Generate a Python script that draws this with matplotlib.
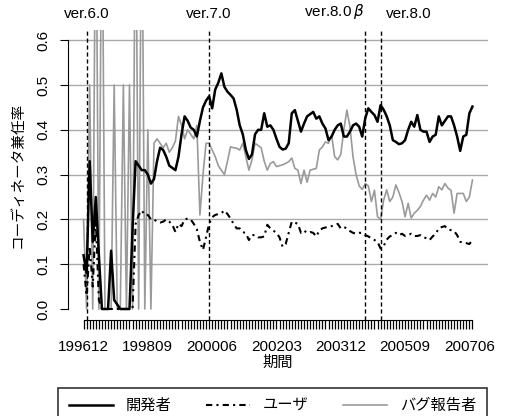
import matplotlib
matplotlib.use("Agg")
import matplotlib.pyplot as plt
import numpy as np

plt.rcParams['font.family'] = ['Liberation Sans', 'Noto Sans CJK JP', 'DejaVu Sans']

# monthly index 0 = 1996/12 ... 127 = 2007/07
dev = [0.12, 0.08, 0.33, 0.15, 0.25, 0.12, 0.00, 0.00, 0.00, 0.13,
       0.02, 0.01, 0.00, 0.00, 0.00, 0.00, 0.18, 0.33, 0.32, 0.31,
       0.31, 0.30, 0.28, 0.29, 0.33, 0.36, 0.355, 0.34, 0.32, 0.315,
       0.31, 0.34, 0.39, 0.43, 0.42, 0.405, 0.40, 0.385, 0.42, 0.45,
       0.465, 0.475, 0.448, 0.49, 0.505, 0.526, 0.496, 0.485, 0.478, 0.47,
       0.445, 0.41, 0.39, 0.355, 0.335, 0.345, 0.39, 0.40, 0.40, 0.437,
       0.407, 0.41, 0.40, 0.38, 0.362, 0.356, 0.358, 0.37, 0.437, 0.444,
       0.42, 0.396, 0.414, 0.43, 0.435, 0.44, 0.425, 0.43, 0.414, 0.403,
       0.377, 0.385, 0.40, 0.41, 0.414, 0.385, 0.385, 0.396, 0.41, 0.414,
       0.407, 0.385, 0.426, 0.448, 0.44, 0.433, 0.418, 0.455, 0.445, 0.43,
       0.41, 0.377, 0.373, 0.368, 0.37, 0.377, 0.40, 0.418, 0.407, 0.433,
       0.40, 0.396, 0.396, 0.373, 0.385, 0.389, 0.43, 0.41, 0.42, 0.43,
       0.43, 0.41, 0.385, 0.353, 0.385, 0.389, 0.437, 0.452]

user = [0.10, 0.03, 0.14, 0.05, 0.20, 0.02, 0.00, 0.00, 0.00, 0.00,
        0.00, 0.00, 0.00, 0.00, 0.00, 0.00, 0.00, 0.19, 0.21, 0.22,
        0.21, 0.21, 0.20, 0.20, 0.195, 0.193, 0.195, 0.20, 0.195, 0.188,
        0.172, 0.19, 0.185, 0.20, 0.202, 0.20, 0.19, 0.178, 0.15, 0.132,
        0.16, 0.19, 0.205, 0.21, 0.212, 0.214, 0.22, 0.212, 0.202, 0.19,
        0.18, 0.18, 0.172, 0.169, 0.154, 0.165, 0.165, 0.16, 0.16, 0.162,
        0.188, 0.18, 0.175, 0.17, 0.16, 0.139, 0.145, 0.17, 0.195, 0.193,
        0.19, 0.17, 0.175, 0.17, 0.172, 0.17, 0.162, 0.175, 0.18, 0.182,
        0.183, 0.185, 0.188, 0.19, 0.18, 0.183, 0.18, 0.174, 0.17, 0.168,
        0.17, 0.17, 0.165, 0.162, 0.158, 0.154, 0.15, 0.135, 0.14, 0.155,
        0.162, 0.165, 0.17, 0.165, 0.168, 0.163, 0.165, 0.168, 0.163, 0.163,
        0.165, 0.16, 0.158, 0.154, 0.162, 0.168, 0.18, 0.183, 0.185, 0.178,
        0.176, 0.174, 0.165, 0.15, 0.148, 0.147, 0.145, 0.154]

bug = [0.20, 0.00, 0.50, 0.00, 1.00, 0.00, 1.00, 0.00, 0.00, 0.00,
       0.50, 0.00, 0.00, 0.50, 0.00, 0.50, 0.00, 1.00, 0.00, 1.00,
       0.00, 0.40, 0.00, 0.37, 0.38, 0.37, 0.36, 0.37, 0.35, 0.36,
       0.375, 0.43, 0.41, 0.38, 0.40, 0.39, 0.38, 0.41, 0.21, 0.30,
       0.37, 0.37, 0.355, 0.34, 0.32, 0.31, 0.30, 0.33, 0.362, 0.36,
       0.359, 0.355, 0.37, 0.34, 0.31, 0.333, 0.37, 0.365, 0.36, 0.33,
       0.31, 0.325, 0.329, 0.318, 0.32, 0.322, 0.325, 0.329, 0.337, 0.314,
       0.31, 0.28, 0.31, 0.283, 0.31, 0.312, 0.314, 0.355, 0.362, 0.373,
       0.37, 0.388, 0.34, 0.333, 0.345, 0.40, 0.444, 0.407, 0.34, 0.30,
       0.275, 0.267, 0.28, 0.275, 0.24, 0.265, 0.206, 0.20, 0.243, 0.266,
       0.24, 0.25, 0.277, 0.26, 0.24, 0.206, 0.236, 0.203, 0.214, 0.22,
       0.229, 0.243, 0.254, 0.243, 0.258, 0.25, 0.273, 0.266, 0.28, 0.27,
       0.265, 0.214, 0.258, 0.258, 0.258, 0.24, 0.25, 0.288]

tick_pos = [0, 21, 42, 63, 84, 105, 126]
tick_labels = ["199612", "199809", "200006", "200203", "200312", "200509", "200706"]

releases = [1, 41, 92, 97]
release_names = ["ver.6.0", "ver.7.0", "ver.8.0$\\,\\beta$", "ver.8.0"]
release_ha = ["center", "center", "right", "left"]
release_dx = [0, 0, -1, 4]

months = np.arange(len(dev))

fig = plt.figure(figsize=(5.05, 4.16), dpi=100)
ax = fig.add_axes([68 / 505, 96.25 / 416, 420 / 505, 290.25 / 416])
ax.set_xlim(-5.08, 132.08)
ax.set_ylim(-0.024, 0.624)

for g in [0.1, 0.2, 0.3, 0.4, 0.5, 0.6]:
    ax.axhline(g, color="#aaaaaa", lw=1.0, zorder=1)

ax.plot(months, bug, color="#9a9a9a", lw=1.2, zorder=2, label="バグ報告者")
ax.plot(months, user, color="black", lw=1.5, dashes=(3, 2, 1, 2), zorder=3, label="ユーザ")
ax.plot(months, dev, color="black", lw=1.8, zorder=4, label="開発者")

for x, name, ha, dx in zip(releases, release_names, release_ha, release_dx):
    ax.axvline(x, color="black", lw=1.0, dashes=(3, 2), zorder=5)
    ax.annotate(name, xy=(x, 1.0), xycoords=("data", "axes fraction"),
                xytext=(dx, 6), textcoords="offset points",
                ha=ha, va="bottom", fontsize=11)

# axes in R style
for s in ["top", "right"]:
    ax.spines[s].set_visible(False)
ax.spines["left"].set_bounds(0, 0.6)
ax.spines["bottom"].set_bounds(0, len(dev) - 1)
ax.set_yticks([0.0, 0.1, 0.2, 0.3, 0.4, 0.5, 0.6])
ax.set_yticklabels(["0.0", "0.1", "0.2", "0.3", "0.4", "0.5", "0.6"],
                   rotation=90, va="center")
ax.set_xticks(tick_pos)
ax.set_xticklabels(tick_labels)
ax.set_xticks(months, minor=True)
ax.tick_params(axis="y", length=6, width=0.8, pad=7, labelsize=11)
ax.tick_params(axis="x", which="both", length=6.5, width=0.9, pad=8, labelsize=11)

ax.set_xlabel("期間", fontsize=11, labelpad=1)
ax.set_ylabel("コーディネータ兼任率", fontsize=10.5, labelpad=8)

h, l = ax.get_legend_handles_labels()
order = [2, 1, 0]
leg = fig.legend([h[i] for i in order], [l[i] for i in order],
                 loc="upper left", bbox_to_anchor=(58 / 505, 1 - 388 / 416 - 0.01, 429 / 505, 0.01),
                 mode="expand", ncol=3, fontsize=11, handlelength=2.9,
                 handletextpad=0.85, borderpad=0.7, borderaxespad=0,
                 fancybox=False, frameon=True)
leg.get_frame().set_edgecolor("black")
leg.get_frame().set_linewidth(1.2)

fig.savefig("out.png", dpi=100)
